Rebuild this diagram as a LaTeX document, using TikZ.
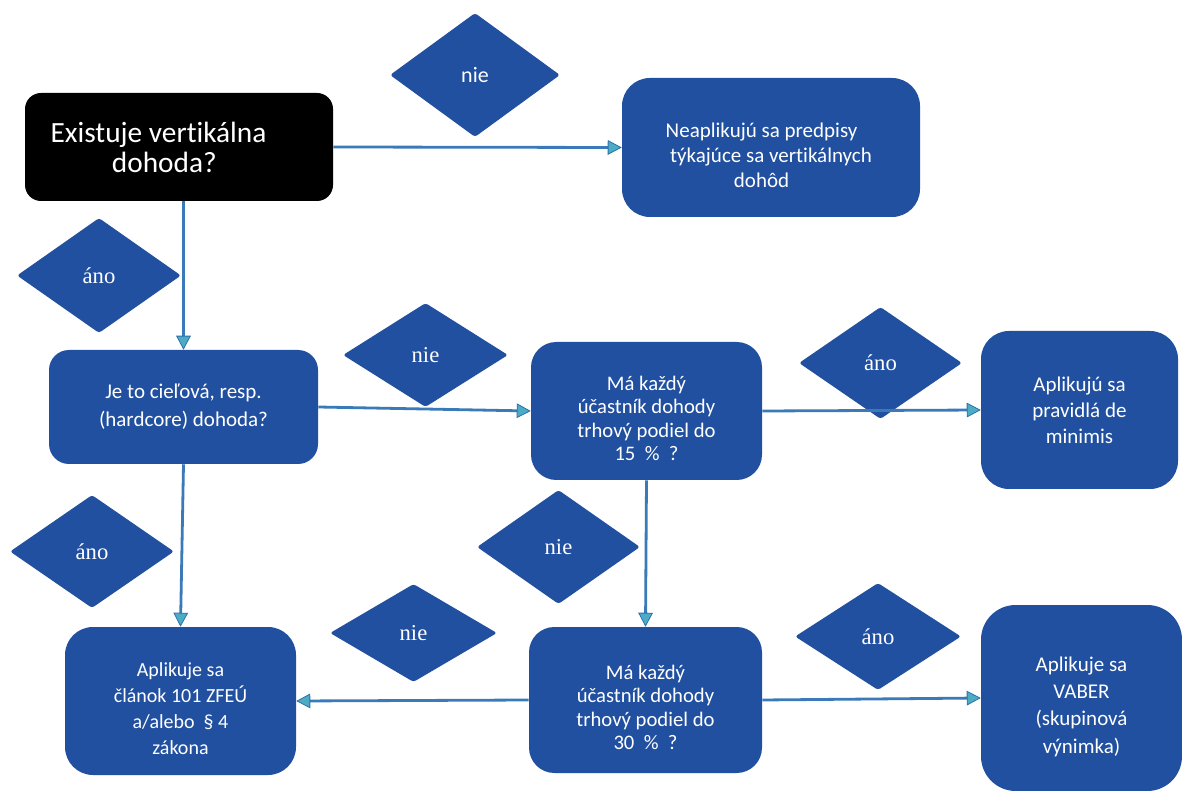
\documentclass[tikz,border=0pt]{standalone}
\usepackage{fontspec}
\setmainfont{Carlito}[Ligatures=NoCommon]
\newfontfamily\serifdia{Liberation Serif}
\usetikzlibrary{shapes.geometric,arrows.meta}
\definecolor{boxblue}{HTML}{2150A0}
\definecolor{linec}{HTML}{3A7AB8}
\definecolor{tipfill}{HTML}{4BACC6}
\definecolor{tipdraw}{HTML}{2F6FA8}
\newcommand{\pxu}{0.75pt}
\begin{document}
\begin{tikzpicture}[x=0.75pt,y=-0.75pt,
    box/.style={rectangle,rounded corners=15pt,fill=boxblue,text=white,
      align=center,inner sep=0pt,font=\fontsize{15.5}{19}\selectfont},
    dia/.style={diamond,rounded corners=2pt,fill=boxblue,text=white,inner sep=0pt,
      font=\serifdia\fontsize{17}{20}\selectfont},
    arr/.style={draw=linec,line width=2.1pt,
      -{Triangle[length=10.5pt,width=11pt,fill=tipfill,color=tipdraw,line width=0.6pt]}}]
  \useasboundingbox (0,0) rectangle (1182,791);

  % Otázky a závery.
  \node[box,fill=black,rounded corners=12pt,minimum width=308*\pxu,minimum height=108*\pxu,
    font=\fontsize{22}{22.5}\selectfont] (vert) at (179,147)
    {Existuje vertikálna\hspace*{1.4em}\\dohoda?\hspace*{1.0em}};
  \node[box,rounded corners=21pt,minimum width=298*\pxu,minimum height=139*\pxu,
    font=\fontsize{15.75}{18.75}\selectfont] (neapl) at (771,147.5)
    {\rule{0pt}{22pt}Neaplikujú sa predpisy\hspace*{0.9em}\\týkajúce sa vertikálnych\hspace*{0.9em}\\dohôd\hspace*{0.9em}};
  \node[box,minimum width=269*\pxu,minimum height=114*\pxu,
    font=\fontsize{15.75}{21}\selectfont] (hard) at (183.5,407)
    {Je to cieľová, resp.\\(hardcore) dohoda?};
  \node[box,rounded corners=19pt,minimum width=231*\pxu,minimum height=138*\pxu,
    font=\fontsize{15.5}{17.5}\selectfont] (podiel15) at (646.5,411)
    {\rule{0pt}{22pt}Má každý\\účastník dohody\\trhový podiel do\\15 \ \% \ ?};
  \node[box,rounded corners=21pt,minimum width=197*\pxu,minimum height=158*\pxu,
    font=\fontsize{15.75}{19.5}\selectfont] (minimis) at (1079.5,410)
    {Aplikujú sa\\pravidlá de\\minimis};
  \node[box,rounded corners=21pt,minimum width=231*\pxu,minimum height=148*\pxu,
    font=\fontsize{15}{19.5}\selectfont] (clanok) at (180.5,701)
    {\rule{0pt}{22pt}Aplikuje sa\\článok 101 ZFEÚ\\a/alebo \ § 4\\zákona};
  \node[box,rounded corners=19pt,minimum width=233*\pxu,minimum height=146*\pxu,
    font=\fontsize{15.5}{17.5}\selectfont] (podiel30) at (645.5,700)
    {\rule{0pt}{22pt}Má každý\\účastník dohody\\trhový podiel do\\30 \ \% \ ?};
  \node[box,rounded corners=26pt,minimum width=201*\pxu,minimum height=186*\pxu,
    font=\fontsize{15.75}{20.5}\selectfont] (vaber) at (1081.5,698)
    {\rule{0pt}{24pt}Aplikuje sa\\VABER\\(skupinová\\výnimka)};

  % Kosoštvorce s odpoveďami.
  \node[dia,minimum width=170*\pxu,minimum height=124*\pxu,
    font=\fontsize{16.5}{20}\selectfont] (nieA) at (475,75) {nie};
  \node[dia,minimum width=164*\pxu,minimum height=115*\pxu] (anoA) at (99,275.5) {áno};
  \node[dia,minimum width=165*\pxu,minimum height=104*\pxu] (nieB) at (425.5,355) {nie};
  \node[dia,minimum width=163*\pxu,minimum height=112*\pxu] (anoB) at (880.5,363) {áno};
  \node[dia,minimum width=164*\pxu,minimum height=113*\pxu] (anoC) at (92,551.5) {áno};
  \node[dia,minimum width=163*\pxu,minimum height=114*\pxu] (nieC) at (558.5,547) {nie};
  \node[dia,minimum width=167*\pxu,minimum height=98*\pxu] (nieD) at (413.5,633) {nie};
  \node[dia,minimum width=166*\pxu,minimum height=107*\pxu] (anoD) at (878,636.5) {áno};

  % Spojnice.
  \draw[arr] (vert.east) -- (neapl.west);
  \draw[arr] (vert.south -| hard.north) -- (hard.north);
  \draw[arr] (hard.east) -- (podiel15.west);
  \draw[arr] (podiel15.east) -- (minimis.west);
  \draw[arr] (hard.south) -- (clanok.north);
  \draw[arr] (podiel15.south) -- (podiel30.north);
  \draw[arr] (podiel30.west) -- (clanok.east);
  \draw[arr] (podiel30.east) -- (vaber.west);
\end{tikzpicture}
\end{document}
